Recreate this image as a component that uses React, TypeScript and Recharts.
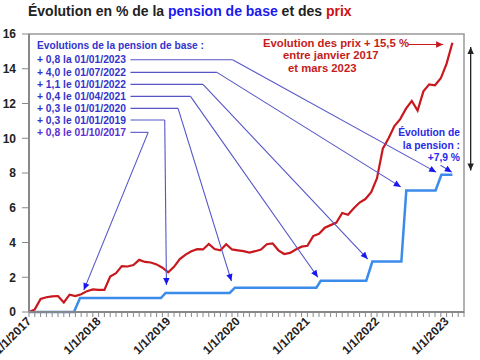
import { LineChart, Line, XAxis, YAxis, ReferenceLine, ReferenceArea } from 'recharts';

// prices, % change since Jan 2017, one value per month (index 0 = Jan 2017)
const priceValues = [
    0, 0.15, 0.75, 0.85, 0.9, 0.92, 0.55, 1.0, 0.92, 1.02, 1.2, 1.3,
    1.27, 1.27, 2.04, 2.24, 2.64, 2.62, 2.7, 3.0, 2.88, 2.85, 2.74, 2.55,
    2.28, 2.6, 3.05, 3.3, 3.5, 3.62, 3.6, 3.92, 3.62, 3.55, 3.9, 3.6,
    3.55, 3.5, 3.42, 3.5, 3.6, 3.9, 3.95, 3.55, 3.34, 3.4, 3.6, 3.76,
    3.81, 4.37, 4.5, 4.85, 5.0, 5.15, 5.7, 5.6, 5.97, 6.3, 6.5, 6.9,
    7.7, 9.4, 10.0, 10.7, 11.1, 11.7, 12.15, 11.6, 12.7, 13.1, 13.05, 13.45,
    14.3, 15.5,
];

// pension de base, cumulated %, read at the corners of the steps
const pensionMonths = [0, 7.75, 8.8, 22.75, 23.55, 34.6, 35.5, 49.55, 50.3, 58.15, 59.2, 64.2, 65.05, 70.1, 71.1, 73];
const pensionValues = [0, 0, 0.8, 0.8, 1.1, 1.1, 1.4, 1.4, 1.8, 1.8, 2.9, 2.9, 7.0, 7.0, 7.9, 7.9];

const yearLabels = ['1/1/2017', '1/1/2018', '1/1/2019', '1/1/2020', '1/1/2021', '1/1/2022', '1/1/2023'];
const yTicks = [0, 2, 4, 6, 8, 10, 12, 14, 16];

// callouts for each revaluation
const noteLabels = [
    '+ 0,8 la 01/01/2023',
    '+ 4,0 le 01/07/2022',
    '+ 1,1 le 01/01/2022',
    '+ 0,4 le 01/04/2021',
    '+ 0,3 le 01/01/2020',
    '+ 0,3 le 01/01/2019',
    '+ 0,8 le 01/10/2017',
];
const noteRowValues = [14.52, 13.79, 13.1, 12.41, 11.72, 11.05, 10.34];
const noteElbowMonths = [35.1, 32.4, 30.0, 27.85, 25.7, 23.4, 20.55];
const noteTipMonths = [70.2, 64.1, 58.4, 49.8, 34.9, 23.7, 9.45];
const noteTipValues = [8.05, 7.2, 3.05, 2.0, 1.78, 1.55, 1.26];
const noteStartMonth = 17.5;

const priceData = priceValues.map((v, i) => ({ m: i, v }));
const pensionData = pensionMonths.map((m, i) => ({ m, v: pensionValues[i] }));
const monthTicks = Array.from({ length: 76 }, (_, i) => i);

const FONT = 'Liberation Sans, Arial, Helvetica, sans-serif';
const W = 480;
const H = 360;
const PLOT_LEFT = 29;
const PLOT_TOP = 34;
const PLOT_BOTTOM = 312;
const X_MAX = 75;
const Y_MAX = 16;

const NOTE_LINE = '#5555c8';
const NOTE_HEAD = '#1717f0';
const NOTE_TEXT = '#3434cc';

const py = (v: number) => PLOT_BOTTOM - (v / Y_MAX) * (PLOT_BOTTOM - PLOT_TOP);

function headPoints(x: number, y: number, ang: number, len: number, half: number) {
    const bx = x - len * Math.cos(ang);
    const by = y - len * Math.sin(ang);
    const sx = half * Math.sin(ang);
    const sy = half * Math.cos(ang);
    return `${x},${y} ${bx - sx},${by + sy} ${bx + sx},${by - sy}`;
}

const arrowShape = (color: string, headColor: string, endHead: boolean, startHead = false, width = 1.1) => (p: any) => {
    const { x1, y1, x2, y2 } = p;
    const a = Math.atan2(y2 - y1, x2 - x1);
    return (
        <g>
            <line x1={x1} y1={y1} x2={x2} y2={y2} stroke={color} strokeWidth={width} />
            {endHead && <polygon points={headPoints(x2, y2, a, 7, 3.2)} fill={headColor} />}
            {startHead && <polygon points={headPoints(x1, y1, a + Math.PI, 7, 3.2)} fill={headColor} />}
        </g>
    );
};

const XTick = ({ x, y, payload }: any) => {
    const v = payload.value;
    if (v % 12 !== 0) return <g />;
    const label = yearLabels[v / 12];
    const bx = x + 3;
    const by = y + 3;
    return (
        <text
            x={bx}
            y={by}
            transform={`rotate(-45 ${bx} ${by})`}
            textAnchor="end"
            fontFamily={FONT}
            fontWeight="bold"
            fontSize={12}
            fill="#222"
        >
            {label}
        </text>
    );
};

export default function App() {
    return (
        <div style={{ position: 'absolute', left: 0, top: 0, width: W, height: H, background: '#fff' }}>
            <LineChart width={W} height={H} margin={{ top: PLOT_TOP, right: 16, bottom: 0, left: 0 }}>
                <XAxis
                    dataKey="m"
                    type="number"
                    domain={[0, X_MAX]}
                    ticks={monthTicks}
                    interval={0}
                    height={48}
                    tickSize={5}
                    tick={<XTick />}
                    axisLine={{ stroke: '#888', strokeWidth: 2 }}
                    tickLine={{ stroke: '#888' }}
                />
                <YAxis
                    type="number"
                    domain={[0, Y_MAX]}
                    ticks={yTicks}
                    width={PLOT_LEFT}
                    tickSize={7}
                    tickMargin={6}
                    axisLine={{ stroke: '#888', strokeWidth: 2 }}
                    tickLine={{ stroke: '#888' }}
                    tick={{ fontFamily: FONT, fontWeight: 'bold', fontSize: 12, fill: '#222' }}
                />
                <ReferenceArea x1={0} x2={X_MAX} y1={0} y2={Y_MAX} fill="none" stroke="#999" strokeWidth={1.5} />
                <Line
                    data={pensionData}
                    dataKey="v"
                    type="linear"
                    stroke="#3b8beb"
                    strokeWidth={2.5}
                    dot={false}
                    isAnimationActive={false}
                />
                <Line
                    data={priceData}
                    dataKey="v"
                    type="linear"
                    stroke="#c8181e"
                    strokeWidth={2.2}
                    dot={false}
                    isAnimationActive={false}
                />
                {noteLabels.map((_, i) => (
                    <ReferenceLine
                        key={`h-${i}`}
                        segment={[{ x: noteStartMonth, y: noteRowValues[i] }, { x: noteElbowMonths[i], y: noteRowValues[i] }]}
                        ifOverflow="visible"
                        shape={arrowShape(NOTE_LINE, NOTE_HEAD, false)}
                    />
                ))}
                {noteLabels.map((_, i) => (
                    <ReferenceLine
                        key={`d-${i}`}
                        segment={[{ x: noteElbowMonths[i], y: noteRowValues[i] }, { x: noteTipMonths[i], y: noteTipValues[i] }]}
                        ifOverflow="visible"
                        shape={arrowShape(NOTE_LINE, NOTE_HEAD, true)}
                    />
                ))}
                {/* +7,9 % pointer */}
                <ReferenceLine
                    segment={[{ x: 70.95, y: 8.45 }, { x: 72.9, y: 8.05 }]}
                    ifOverflow="visible"
                    shape={arrowShape(NOTE_LINE, NOTE_HEAD, true)}
                />
                {/* prix + 15,5 % pointer */}
                <ReferenceLine
                    segment={[{ x: 65.3, y: 15.4 }, { x: 71.4, y: 15.4 }]}
                    ifOverflow="visible"
                    shape={arrowShape('#c8181e', '#c8181e', true)}
                />
                {/* gap between prices and pension */}
                <ReferenceLine
                    segment={[{ x: 76.15, y: 15.25 }, { x: 76.15, y: 8.15 }]}
                    ifOverflow="visible"
                    shape={arrowShape('#222', '#222', true, true, 1.3)}
                />
            </LineChart>
            <svg
                width={W}
                height={H}
                style={{ position: 'absolute', left: 0, top: 0, pointerEvents: 'none' }}
                fontFamily={FONT}
                fontWeight="bold"
            >
                <text x={28} y={15.5} fontSize={14} fill="#222">
                    Évolution en % de la <tspan fill="#1a1aee">pension de base</tspan> et des <tspan fill="#cc1111">prix</tspan>
                </text>
                <text x={37} y={49} fontSize={10.2} fill={NOTE_TEXT}>Evolutions de la pension de base :</text>
                {noteLabels.map((t, i) => (
                    <text key={t} x={37} y={py(noteRowValues[i]) + 3.6} fontSize={10.3} fill={i === noteLabels.length - 1 ? '#5a2fd4' : NOTE_TEXT}>
                        {t}
                    </text>
                ))}
                <g fontSize={11.3} fill="#c41c1c">
                    <text x={263} y={47}>Evolution des prix + 15,5 %</text>
                    <text x={283} y={59}>entre janvier 2017</text>
                    <text x={288} y={72}>et mars 2023</text>
                </g>
                <g fontSize={10.3} fill="#2a2ae6" textAnchor="end">
                    <text x={460} y={136}>Évolution de</text>
                    <text x={460} y={148.5}>la pension :</text>
                    <text x={460} y={160.5}>+7,9 %</text>
                </g>
            </svg>
        </div>
    );
}
